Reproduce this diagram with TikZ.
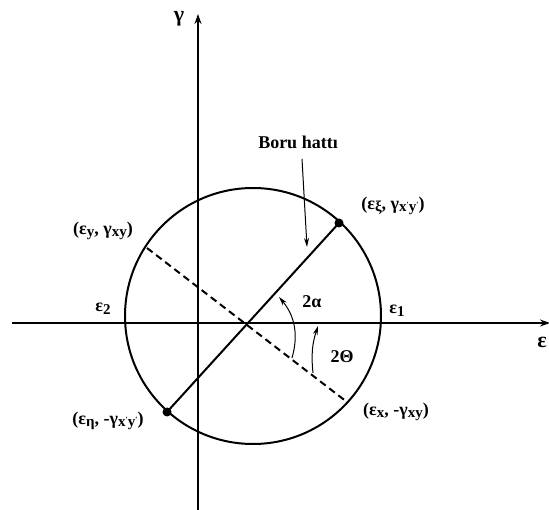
\documentclass[tikz,border=0pt]{standalone}
\usepackage{fontspec}
\setmainfont{Liberation Serif}
\usetikzlibrary{arrows.meta}
\newcommand{\sbs}[1]{\raisebox{-2.5pt}{\fontsize{15}{15}\selectfont #1}}
\newcommand{\prm}{\raisebox{4pt}{\fontsize{8}{8}\selectfont\char"2032}}
\begin{document}
\begin{tikzpicture}[x=1pt,y=-1pt,
  axis/.style={line width=2.4pt,-{Stealth[length=10pt,width=7pt]}},
  curve/.style={line width=2pt},
  thinarrow/.style={line width=1pt,-{Stealth[length=9pt,width=5pt]}},
  lbl/.style={font=\fontsize{18}{18}\selectfont\bfseries, inner sep=0pt},
  dotmark/.style={circle,fill=black,inner sep=0pt,minimum size=9pt}]
\useasboundingbox[fill=white] (0,0) rectangle (549,510);
% coordinates
\coordinate (O) at (253,316);
\coordinate (hL) at (12,323);
\coordinate (hR) at (550,323);
\coordinate (vB) at (198,512);
\coordinate (vT) at (198,14);
\coordinate (Y) at (147,248);
\coordinate (X) at (347,402);
% axes
\draw[axis] (hL) -- (hR);
\draw[axis] (vB) -- (vT);
% circle
\draw[curve] (O) circle (128pt);
% diameter and chord
\node[dotmark] (xi) at (339,223) {};
\node[dotmark] (eta) at (167,412) {};
\draw[curve] (eta.center) -- (xi.center);
\draw[curve,dash pattern=on 7pt off 4.5pt] (Y) -- (X);
% angle arrows
\coordinate (a1) at (292,358);
\coordinate (a2) at (279,297);
\draw[thinarrow] (a1) to[bend right=28] (a2);
\coordinate (t1) at (313,373);
\coordinate (t2) at (318,326);
\draw[thinarrow] (t1) to[bend left=12] (t2);
% labels
\node[lbl,font=\fontsize{22}{22}\selectfont\bfseries] (gam) at (179,19) {γ};
\node[lbl,font=\fontsize{22}{22}\selectfont\bfseries] (eps) at (542,342) {ε};
\node[lbl] (boru) at (298,142) {Boru hattı};
\coordinate (b1) at (302,159);
\coordinate (b2) at (307,247);
\draw[thinarrow] (b1) -- (b2);
\node[lbl] (lxi) at (393,206) {(ε\sbs{ξ}, γ\sbs{x\prm y\prm})};
\node[lbl] (ly) at (103,231) {(ε\sbs{y}, γ\sbs{xy})};
\node[lbl] (e2) at (103,309) {ε\sbs{2}};
\node[lbl] (e1) at (397,311) {ε\sbs{1}};
\node[lbl] (alp) at (312,302) {2α};
\node[lbl] (the) at (342,357) {2Θ};
\node[lbl] (lx) at (396,412) {(ε\sbs{x}, -γ\sbs{xy})};
\node[lbl] (leta) at (108,421) {(ε\sbs{η}, -γ\sbs{x\prm y\prm})};
\end{tikzpicture}
\end{document}
